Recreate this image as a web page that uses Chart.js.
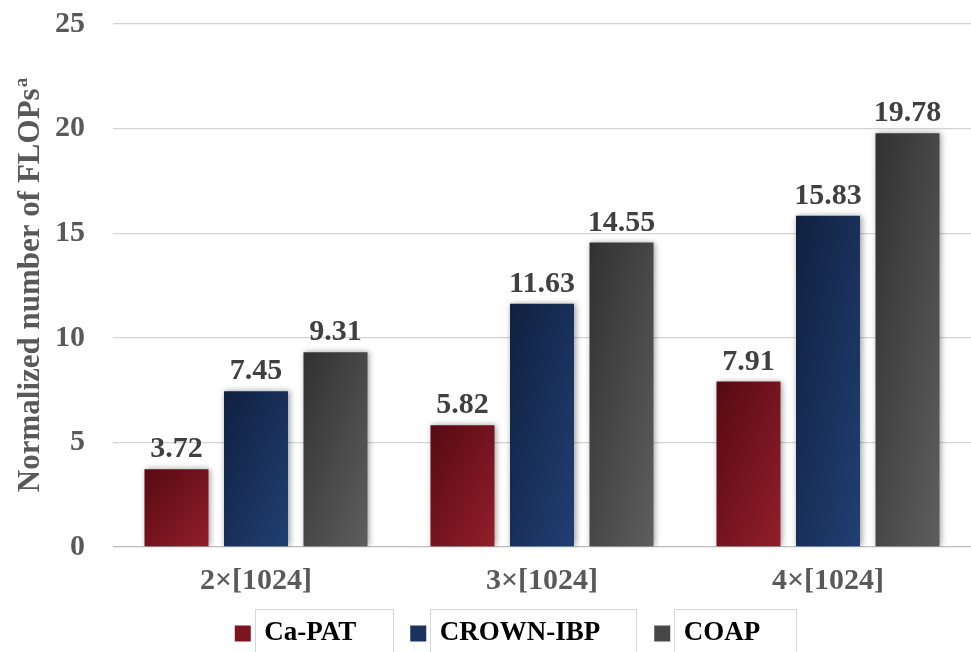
<!DOCTYPE html>
<html>
<head>
<meta charset="utf-8">
<script src="https://cdn.jsdelivr.net/npm/chart.js@4/dist/chart.umd.min.js"></script>
<style>
  html, body { margin: 0; padding: 0; background: #ffffff; }
  #wrap { width: 971px; height: 652px; }
</style>
</head>
<body>
<div id="wrap"><canvas id="chart" width="971" height="652"></canvas></div>
<script>
// Network sizes on the x axis
const categories = ['2×[1024]', '3×[1024]', '4×[1024]'];

// Normalized FLOPs per method
const caPat    = [3.72, 5.82, 7.91];
const crownIbp = [7.45, 11.63, 15.83];
const coap     = [9.31, 14.55, 19.78];

const seriesNames = ['Ca-PAT', 'CROWN-IBP', 'COAP'];
const yTicks = [0, 5, 10, 15, 20, 25];

const SERIF = '"Liberation Serif", "Times New Roman", "DejaVu Serif", serif';
const CAT_PCT = 0.834;
const BAR_PCT = 0.805;

// dark -> light shading for each series
const shades = [
  ['#560a12', '#921e2b'],
  ['#10203f', '#213f73'],
  ['#313131', '#5e5e5e']
];
const legendFill = ['#7a1521', '#1a335f', '#474747'];

// diagonal shading stretched to each bar's own box
function barFill(ctx) {
  const pair = shades[ctx.datasetIndex];
  const chart = ctx.chart;
  const xs = chart.scales.x, ys = chart.scales.y;
  if (ctx.type !== 'data' || !xs || !ys || !chart.chartArea) return pair[1];
  const n = chart.data.datasets.length;
  const catW = xs.width / chart.data.labels.length;
  const slot = catW * CAT_PCT / n;
  const cx = xs.getPixelForValue(ctx.dataIndex) + (ctx.datasetIndex - (n - 1) / 2) * slot;
  const w = slot * BAR_PCT;
  const left = cx - w / 2;
  const top = ys.getPixelForValue(ctx.raw);
  const h = ys.getPixelForValue(0) - top;
  if (!(h > 0)) return pair[1];
  const d = w * w + h * h;
  const g = chart.ctx.createLinearGradient(left, top, left + 2 * w * h * h / d, top + 2 * w * w * h / d);
  g.addColorStop(0, pair[0]);
  g.addColorStop(1, pair[1]);
  return g;
}

const barShadow = {
  id: 'barShadow',
  beforeDatasetsDraw(chart) {
    const c = chart.ctx;
    c.save();
    c.shadowColor = 'rgba(0,0,0,0.38)';
    c.shadowBlur = 6;
    c.shadowOffsetX = 1.5;
    c.shadowOffsetY = 0;
  },
  afterDatasetsDraw(chart) {
    chart.ctx.restore();
  }
};

const valueLabels = {
  id: 'valueLabels',
  afterDatasetsDraw(chart) {
    const c = chart.ctx;
    c.save();
    c.font = 'bold 30px ' + SERIF;
    c.fillStyle = '#404040';
    c.textAlign = 'center';
    c.textBaseline = 'alphabetic';
    chart.data.datasets.forEach((ds, di) => {
      chart.getDatasetMeta(di).data.forEach((bar, i) => {
        c.fillText(ds.data[i].toFixed(2), bar.x, bar.y - 12);
      });
    });
    c.restore();
  }
};

const yTitle = {
  id: 'yTitle',
  afterDraw(chart) {
    const c = chart.ctx;
    const a = chart.chartArea;
    const main = 'Normalized number of FLOPs';
    const sup = 'a';
    c.save();
    c.fillStyle = '#595959';
    c.font = 'bold 31px ' + SERIF;
    const w1 = c.measureText(main).width;
    c.font = 'bold 19px ' + SERIF;
    const w2 = c.measureText(sup).width;
    c.translate(31, (a.top + a.bottom) / 2);
    c.rotate(-Math.PI / 2);
    c.textBaseline = 'middle';
    c.textAlign = 'left';
    const start = -(w1 + w2) / 2;
    c.font = 'bold 31px ' + SERIF;
    c.fillText(main, start, 0);
    c.font = 'bold 19px ' + SERIF;
    c.fillText(sup, start + w1 + 1, -9);
    c.restore();
  }
};

// legend row: nudge right and lift its top so the wide-spaced row sits under the axis labels
const legendTweak = {
  id: 'legendTweak',
  afterLayout(chart) {
    const lg = chart.legend;
    if (lg) { lg.top -= 33; lg.left += 12; lg.right += 12; }
  },
  afterDraw(chart) {
    const lg = chart.legend;
    if (!lg || !lg.legendHitBoxes) return;
    const c = chart.ctx;
    c.save();
    c.strokeStyle = '#d6d6d6';
    c.lineWidth = 1;
    c.font = 'bold 27px ' + SERIF;
    lg.legendItems.forEach((item, i) => {
      const hb = lg.legendHitBoxes[i];
      const tw = c.measureText(item.text).width;
      const x = Math.round(hb.left + 16 + 4) + 0.5;
      c.strokeRect(x, 609.5, Math.round(tw + 46), 60);
    });
    c.restore();
  }
};

const datasets = [caPat, crownIbp, coap].map((vals, i) => ({
  label: seriesNames[i],
  data: vals,
  backgroundColor: barFill,
  borderWidth: 0,
  categoryPercentage: CAT_PCT,
  barPercentage: BAR_PCT
}));

new Chart(document.getElementById('chart'), {
  type: 'bar',
  data: { labels: categories, datasets },
  plugins: [barShadow, valueLabels, yTitle, legendTweak],
  options: {
    responsive: false,
    animation: false,
    devicePixelRatio: 1,
    layout: { padding: { top: 24, right: 0, bottom: 0, left: 0 } },
    plugins: {
      tooltip: { enabled: false },
      title: { display: false },
      legend: {
        position: 'bottom',
        maxHeight: 53,
        labels: {
          font: { family: SERIF, size: 27, weight: 'bold' },
          color: '#000000',
          boxWidth: 16,
          boxHeight: 16,
          padding: 54,
          generateLabels(chart) {
            const items = Chart.defaults.plugins.legend.labels.generateLabels(chart);
            items.forEach((it, i) => {
              it.fillStyle = legendFill[i];
              it.strokeStyle = 'rgba(0,0,0,0)';
              it.lineWidth = 0;
            });
            return items;
          }
        }
      }
    },
    scales: {
      x: {
        grid: { display: false, drawTicks: false },
        border: { display: false },
        ticks: {
          font: { family: SERIF, size: 30, weight: 'bold' },
          color: '#595959',
          padding: 16,
          maxRotation: 0
        },
        afterFit(scale) { scale.height = 52; }
      },
      y: {
        min: 0,
        max: 25,
        afterBuildTicks(scale) { scale.ticks = yTicks.map(v => ({ value: v })); },
        grid: {
          drawTicks: false,
          color: ctx => (ctx.tick && ctx.tick.value === 0) ? '#bdbdbd' : '#d4d4d4',
          lineWidth: 1.3
        },
        border: { display: false },
        ticks: {
          font: { family: SERIF, size: 30, weight: 'bold' },
          color: '#595959',
          padding: 28
        },
        afterFit(scale) {
          scale.width = 113;
          scale.paddingTop = 0;
          scale.paddingBottom = 0;
        }
      }
    }
  }
});
</script>
</body>
</html>
